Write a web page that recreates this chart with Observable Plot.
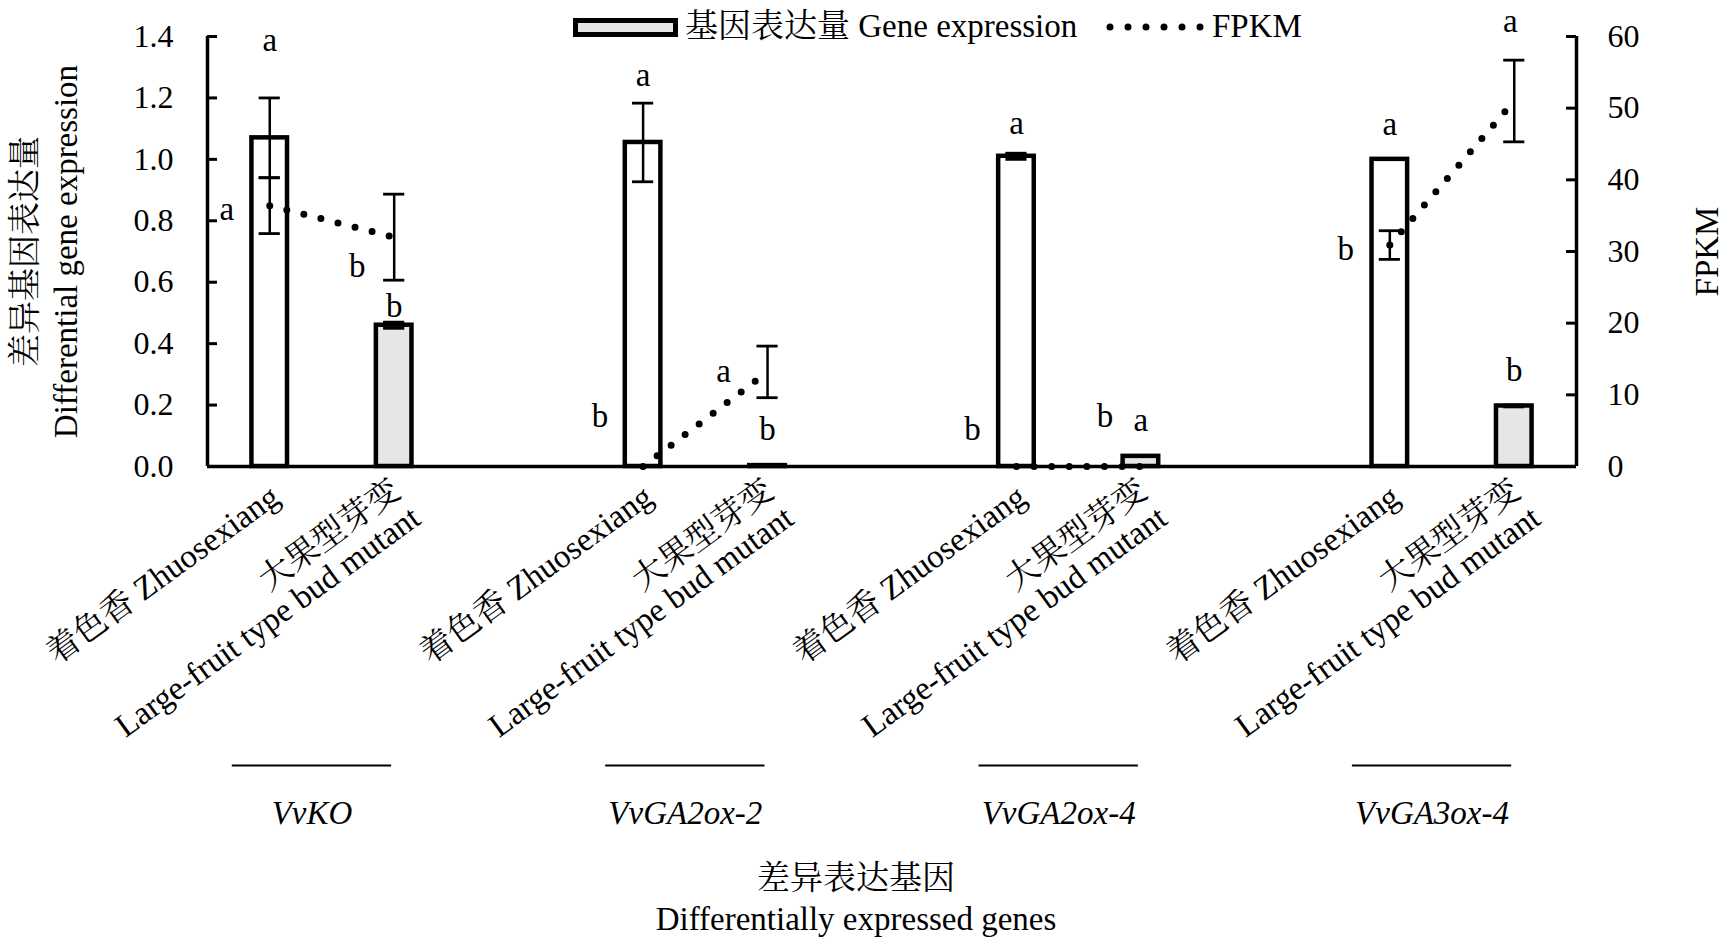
<!DOCTYPE html>
<html>
<head>
<meta charset="utf-8">
<script src="https://cdn.jsdelivr.net/npm/d3@7"></script>
<script src="https://cdn.jsdelivr.net/npm/@observablehq/plot@0.6"></script>
<style>
  html, body { margin: 0; padding: 0; background: white; }
  #wrap { position: relative; width: 1726px; height: 940px; }
  #legend { position: absolute; left: 0; top: 0; }
</style>
</head>
<body>
<div id="wrap"></div>
<script>
// ---------- data ----------
const genes = ["VvKO", "VvGA2ox-2", "VvGA2ox-4", "VvGA3ox-4"];
const sampleLabels = ["着色香 Zhuosexiang", "大果型芽变\nLarge-fruit type bud mutant"];

const exprZhuo = [1.07, 1.055, 1.01, 1.0];
const exprMutant = [0.46, 0.003, 0.033, 0.197];
const exprSdZhuo = [0.13, 0.128, 0.01, 0];
const exprSdMutant = [0.01, 0, 0, 0.003];

const fpkmZhuo = [36.4, 0, 0, 30.9];
const fpkmMutant = [32, 13.2, 0, 51];
const fpkmSdZhuo = [3.9, 0, 0, 2];
const fpkmSdMutant = [6, 3.6, 0, 5.7];

const letterExprZhuo = ["a", "a", "a", "a"];
const letterExprMutant = ["b", "b", "a", "b"];
const letterFpkmZhuo = ["a", "b", "b", "b"];
const letterFpkmMutant = ["b", "a", "b", "a"];

const leftTicks = [0, 0.2, 0.4, 0.6, 0.8, 1.0, 1.2, 1.4];
const rightTicks = [0, 10, 20, 30, 40, 50, 60];

// ---------- derived tables ----------
const yMax = leftTicks[leftTicks.length - 1];
const fMax = rightTicks[rightTicks.length - 1];
const ratio = yMax / fMax; // FPKM -> left-axis units
const perGroup = 3;         // two bars + one empty slot
const xDomain = [-0.5, genes.length * perGroup - 1 - 0.5];

const rows = [];
genes.forEach((g, gi) => {
  [0, 1].forEach(s => {
    rows.push({
      gene: g, gi, s,
      slot: gi * perGroup + s,
      label: sampleLabels[s],
      expr: s === 0 ? exprZhuo[gi] : exprMutant[gi],
      esd: s === 0 ? exprSdZhuo[gi] : exprSdMutant[gi],
      fpkm: (s === 0 ? fpkmZhuo[gi] : fpkmMutant[gi]) * ratio,
      fsd: (s === 0 ? fpkmSdZhuo[gi] : fpkmSdMutant[gi]) * ratio,
      le: s === 0 ? letterExprZhuo[gi] : letterExprMutant[gi],
      lf: s === 0 ? letterFpkmZhuo[gi] : letterFpkmMutant[gi]
    });
  });
});
const groups = genes.map((g, gi) => ({gene: g, center: gi * perGroup + 0.5}));
const exprErr = rows.filter(d => d.esd > 0);
const fpkmErr = rows.filter(d => d.fsd > 0);

// ---------- layout / style ----------
const FONT = "'Liberation Serif', 'Times New Roman', 'Noto Serif CJK SC', 'Noto Sans CJK SC', serif";
const FS = 33;
const halfBar = 0.143, halfCap = 0.085;
// label offsets (px) for significance letters, in row order
const exprLetterDy = [-57, -16, -28, -36, -30, -36, -35, -35];
const fpkmLetterOff = [[-43, 4], [-37, 29], [-43, -50], [-44, 0], [-44, -37], [-36, -50], [-44, 4], [-4, -80]];

const letterMarks = [];
rows.forEach((d, i) => {
  letterMarks.push(Plot.text([d], {x: "slot", y: r => r.expr + r.esd, text: "le", dy: exprLetterDy[i], fontSize: FS}));
  letterMarks.push(Plot.text([d], {x: "slot", y: "fpkm", text: "lf", dx: fpkmLetterOff[i][0], dy: fpkmLetterOff[i][1], fontSize: FS}));
});

const W = 1726, H = 940;
const chart = Plot.plot({
  width: W, height: H,
  marginLeft: 207, marginRight: 150, marginTop: 36, marginBottom: 474,
  style: {fontFamily: FONT, fontSize: FS + "px", background: "white", color: "black"},
  x: {type: "linear", domain: xDomain, axis: null},
  y: {domain: [0, yMax], axis: null},
  marks: [
    // bars
    Plot.rectY(rows, {x1: d => d.slot - halfBar, x2: d => d.slot + halfBar, y1: 0, y2: "expr",
      fill: d => d.s === 0 ? "white" : "#e6e6e6", stroke: "black", strokeWidth: 4.5}),
    // expression error bars
    Plot.ruleX(exprErr, {x: "slot", y1: d => d.expr - d.esd, y2: d => d.expr + d.esd, stroke: "black", strokeWidth: 2.5}),
    Plot.ruleY(exprErr, {y: d => d.expr + d.esd, x1: d => d.slot - halfCap, x2: d => d.slot + halfCap, stroke: "black", strokeWidth: 2.8}),
    Plot.ruleY(exprErr, {y: d => d.expr - d.esd, x1: d => d.slot - halfCap, x2: d => d.slot + halfCap, stroke: "black", strokeWidth: 2.8}),
    // axes lines
    Plot.ruleY([0], {stroke: "black", strokeWidth: 3.5}),
    Plot.ruleX([xDomain[0]], {stroke: "black", strokeWidth: 3.5}),
    Plot.ruleX([xDomain[1]], {stroke: "black", strokeWidth: 3.5}),
    // FPKM dotted line
    Plot.line(rows, {x: "slot", y: "fpkm", z: "gene", stroke: "black", strokeWidth: 7,
      strokeDasharray: "0 17.6", strokeLinecap: "round"}),
    // FPKM error bars
    Plot.ruleX(fpkmErr, {x: "slot", y1: d => d.fpkm - d.fsd, y2: d => d.fpkm + d.fsd, stroke: "black", strokeWidth: 2.5}),
    Plot.ruleY(fpkmErr, {y: d => d.fpkm + d.fsd, x1: d => d.slot - halfCap, x2: d => d.slot + halfCap, stroke: "black", strokeWidth: 2.8}),
    Plot.ruleY(fpkmErr, {y: d => d.fpkm - d.fsd, x1: d => d.slot - halfCap, x2: d => d.slot + halfCap, stroke: "black", strokeWidth: 2.8}),
    // inward ticks
    Plot.tickY(leftTicks, {y: d => d, insetRight: W - 207 - 150 - 10, stroke: "black", strokeWidth: 3}),
    Plot.tickY(rightTicks.map(v => v * ratio), {y: d => d, insetLeft: W - 207 - 150 - 10, stroke: "black", strokeWidth: 3}),
    // tick labels
    Plot.axisY(leftTicks, {anchor: "left", tickSize: 0, tickPadding: 34, tickFormat: d3.format(".1f"), fontSize: 32, label: null}),
    Plot.axisY(rightTicks.map(v => v * ratio), {anchor: "right", tickSize: 0, tickPadding: 31,
      tickFormat: d => String(Math.round(d / ratio)), fontSize: 32, label: null}),
    // letters
    ...letterMarks,
    // category labels
    Plot.text(rows.filter(d => d.s === 0), {x: "slot", text: "label", frameAnchor: "bottom", rotate: -36,
      textAnchor: "end", lineAnchor: "top", dx: -2, dy: 16, fontSize: FS}),
    Plot.text(rows.filter(d => d.s === 1), {x: "slot", text: "label", frameAnchor: "bottom", rotate: -36,
      textAnchor: "end", lineAnchor: "top", lineHeight: 1.03, dx: -6, dy: 9, fontSize: FS}),
    // gene group lines and names
    Plot.ruleY(groups, {x1: d => d.center - 0.64, x2: d => d.center + 0.64, y: () => 0, dx: -20, dy: 299, stroke: "black", strokeWidth: 2}),
    Plot.text(groups, {x: "center", text: "gene", frameAnchor: "bottom", dx: -20, dy: 357, fontStyle: "italic", fontSize: FS}),
    // axis titles
    Plot.text(["差异表达基因"], {text: d => d, frameAnchor: "bottom", dx: -36, dy: 422, fontSize: FS}),
    Plot.text(["Differentially expressed genes"], {text: d => d, frameAnchor: "bottom", dx: -36, dy: 463, fontSize: FS}),
    Plot.text(["差异基因表达量"], {text: d => d, frameAnchor: "left", textAnchor: "middle", lineAnchor: "middle", rotate: -90, dx: -182, dy: 0, fontSize: FS}),
    Plot.text(["Differential gene expression"], {text: d => d, frameAnchor: "left", textAnchor: "middle", lineAnchor: "middle", rotate: -90, dx: -141, dy: 0, fontSize: FS}),
    Plot.text(["FPKM"], {text: d => d, frameAnchor: "right", textAnchor: "middle", lineAnchor: "middle", rotate: -90, dx: 131, dy: 0, fontSize: FS})
  ]
});
const wrap = document.getElementById("wrap");
wrap.appendChild(chart);

// legend (above the plot area)
const ns = "http://www.w3.org/2000/svg";
const lg = document.createElementNS(ns, "svg");
lg.setAttribute("id", "legend");
lg.setAttribute("width", W);
lg.setAttribute("height", 50);
lg.innerHTML = `
  <rect x="575.5" y="20.5" width="100" height="14" fill="#e6e6e6" stroke="black" stroke-width="5"></rect>
  <text x="685" y="37" font-size="${FS}" style="font-family:${FONT}">基因表达量 Gene expression</text>
  <line x1="1110" x2="1201" y1="27" y2="27" stroke="black" stroke-width="7" stroke-dasharray="0 18" stroke-linecap="round"></line>
  <text x="1212" y="37" font-size="${FS}" style="font-family:${FONT}">FPKM</text>`;
wrap.appendChild(lg);
</script>
</body>
</html>
